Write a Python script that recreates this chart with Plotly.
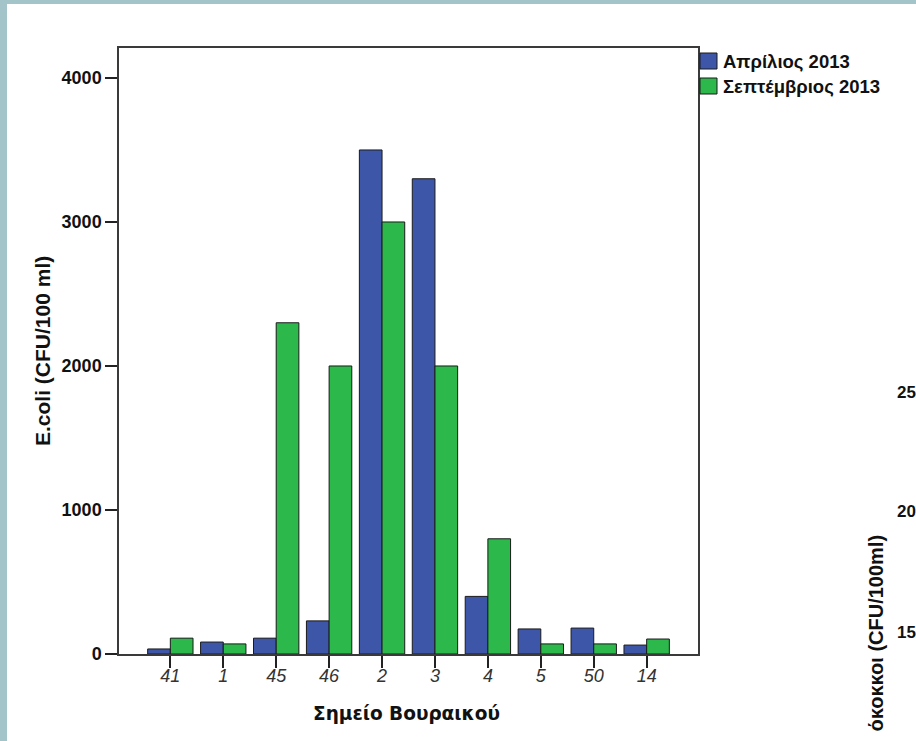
import plotly.graph_objects as go

categories = ["41", "1", "45", "46", "2", "3", "4", "5", "50", "14"]
april_2013 = [35, 83, 110, 230, 3500, 3300, 400, 174, 180, 62]
september_2013 = [110, 70, 2300, 2000, 3000, 2000, 800, 70, 70, 104]
series_names = ["Απρίλιος 2013", "Σεπτέμβριος 2013"]
series_colors = ["#3D56A8", "#2DB84B"]
y_ticks = [0, 1000, 2000, 3000, 4000]

W, H = 916, 741
L, R, T, B = 119, 698, 48, 654

def px(x):
    return (x - L) / (R - L)

def py(y):
    return (B - y) / (B - T)

fig = go.Figure()
for name, vals, col in zip(series_names, [april_2013, september_2013], series_colors):
    fig.add_trace(go.Bar(
        x=categories, y=vals, name=name,
        marker=dict(color=col, line=dict(color="#1a1a1a", width=1)),
        showlegend=False,
    ))

shapes = []
annotations = []
# white page on the teal frame
shapes.append(dict(type="rect", xref="paper", yref="paper", x0=px(7), x1=px(W + 10),
                   y0=py(H + 10), y1=py(4), fillcolor="white", line=dict(width=0), layer="below"))

# manual legend
leg_y = [61, 86]
for name, col, yc in zip(series_names, series_colors, leg_y):
    shapes.append(dict(type="rect", xref="paper", yref="paper",
                       x0=px(700), x1=px(717), y0=py(yc + 8), y1=py(yc - 8),
                       fillcolor=col, line=dict(color="#1a1a1a", width=1)))
    annotations.append(dict(text=name, xref="paper", yref="paper", x=px(721), y=py(yc + 1),
                            xanchor="left", yanchor="middle", showarrow=False,
                            font=dict(family="Liberation Sans, Arial, sans-serif", size=18.5,
                                      color="#111", weight="bold")))

# axis titles
annotations.append(dict(text="Σημείο Βουραικού", xref="paper", yref="paper", x=px(406), y=py(713),
                        xanchor="center", yanchor="middle", showarrow=False,
                        font=dict(family="DejaVu Sans, sans-serif", size=18.5, color="#111", weight="bold")))
annotations.append(dict(text="E.coli (CFU/100 ml)", xref="paper", yref="paper", x=px(42), y=py(351),
                        xanchor="center", yanchor="middle", showarrow=False, textangle=-90,
                        font=dict(family="Liberation Sans, Arial, sans-serif", size=21, color="#111", weight="bold")))

# neighbouring chart fragments at the right edge
for lbl, yc in [("25", 392), ("20", 512), ("15", 632)]:
    annotations.append(dict(text=lbl, xref="paper", yref="paper", x=px(895), y=py(yc),
                            xanchor="left", yanchor="middle", showarrow=False,
                            font=dict(family="Liberation Sans, sans-serif", size=17,
                                      color="#111", weight="bold")))
annotations.append(dict(text="όκοκκοι (CFU/100ml)", xref="paper", yref="paper", x=px(875), y=py(533),
                        xanchor="center", yanchor="top", showarrow=False, textangle=-90,
                        font=dict(family="Liberation Sans, Arial, sans-serif", size=20, color="#111", weight="bold")))

fig.update_layout(
    width=W, height=H,
    margin=dict(l=L, r=W - R, t=T, b=H - B, pad=0),
    paper_bgcolor="#A3C4C8", plot_bgcolor="white",
    barmode="group", bargap=0.143, bargroupgap=0,
    shapes=shapes, annotations=annotations,
    showlegend=False,
)
fig.update_xaxes(
    type="category", range=[-0.97, 9.97],
    showline=True, linecolor="#3a3a3a", linewidth=1.5, mirror=True,
    ticks="outside", ticklen=12, tickwidth=1.5, tickcolor="#222",
    ticklabelstandoff=-7,
    tickfont=dict(family="Liberation Sans, Arial, sans-serif", size=18, color="#333", style="italic"),
    showgrid=False, zeroline=False,
)
fig.update_yaxes(
    range=[0, 4208], tickvals=y_ticks, ticktext=[str(v) for v in y_ticks],
    showline=True, linecolor="#3a3a3a", linewidth=1.5, mirror=True,
    ticks="outside", ticklen=12, tickwidth=1.5, tickcolor="#222",
    tickfont=dict(family="Liberation Sans, sans-serif", size=18, color="#111", weight="bold"),
    showgrid=False, zeroline=False,
)

fig.write_html("out.html", config={"displayModeBar": False},
               post_script="document.body.style.margin='0';document.body.style.overflow='hidden';")
